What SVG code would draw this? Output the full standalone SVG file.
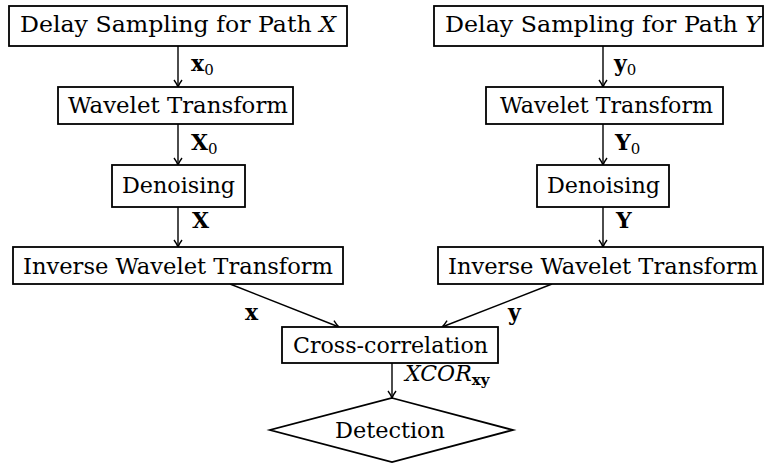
<svg xmlns="http://www.w3.org/2000/svg" width="764" height="463" viewBox="0 0 764 463">
<style>
  .box { fill: #fff; stroke: #000; stroke-width: 1.8; }
  .t { font-family: "DejaVu Serif", "Liberation Serif", serif; font-size: 22px; fill: #000; }
  .lbl { font-family: "DejaVu Serif", "Liberation Serif", serif; font-size: 22px; font-weight: bold; fill: #000; }
  .sub { font-family: "DejaVu Serif", "Liberation Serif", serif; font-size: 15px; font-weight: normal; font-style: normal; }
  .subb { font-family: "DejaVu Serif", "Liberation Serif", serif; font-size: 15px; font-weight: bold; font-style: normal; }
  .it { font-family: "DejaVu Serif", "Liberation Serif", serif; font-size: 22px; font-style: italic; fill: #000; }
  .con { stroke: #000; stroke-width: 1.4; fill: none; marker-end: url(#arr); }
</style>
<defs>
  <marker id="arr" markerUnits="userSpaceOnUse" markerWidth="12" markerHeight="12" refX="10" refY="6" orient="auto" viewBox="0 0 12 12">
    <path d="M 3 2 Q 7 5 10 6 Q 7 7 3 10" fill="none" stroke="#000" stroke-width="1.4"/>
  </marker>
</defs>
<rect width="764" height="463" fill="#fff"/>

<g id="connectors">
  <line class="con" x1="178" y1="46" x2="178" y2="87"/>
  <line class="con" x1="178" y1="124" x2="178" y2="165"/>
  <line class="con" x1="178" y1="207" x2="178" y2="247"/>
  <line class="con" x1="603" y1="46" x2="603" y2="87"/>
  <line class="con" x1="603" y1="124" x2="603" y2="165"/>
  <line class="con" x1="603" y1="207" x2="603" y2="247"/>
  <line class="con" x1="230" y1="284" x2="339" y2="327"/>
  <line class="con" x1="552" y1="284" x2="442" y2="327"/>
  <line class="con" x1="392" y1="363" x2="392" y2="398"/>
  <text class="lbl" x="191" y="71">x<tspan class="sub" dy="4">0</tspan></text>
  <text class="lbl" x="191" y="150">X<tspan class="sub" dy="4">0</tspan></text>
  <text class="lbl" x="192" y="228">X</text>
  <text class="lbl" x="614" y="71">y<tspan class="sub" dy="4">0</tspan></text>
  <text class="lbl" x="615" y="150">Y<tspan class="sub" dy="4">0</tspan></text>
  <text class="lbl" x="616" y="228">Y</text>
  <text class="lbl" x="245" y="320">x</text>
  <text class="lbl" x="508" y="320">y</text>
  <text class="it" x="405" y="381">XCOR<tspan class="subb" dy="4">xy</tspan></text>
</g>

<g id="delayX">
  <rect class="box" x="9" y="6" width="338" height="40"/>
  <text class="t" x="20" y="32" textLength="316" lengthAdjust="spacingAndGlyphs">Delay Sampling for Path <tspan font-style="italic">X</tspan></text>
</g>
<g id="waveletX">
  <rect class="box" x="58" y="87" width="235" height="37"/>
  <text class="t" x="68" y="113" textLength="220" lengthAdjust="spacingAndGlyphs">Wavelet Transform</text>
</g>
<g id="denoiseX">
  <rect class="box" x="112" y="165" width="133" height="42"/>
  <text class="t" x="122" y="193" textLength="113" lengthAdjust="spacingAndGlyphs">Denoising</text>
</g>
<g id="inverseX">
  <rect class="box" x="13" y="247" width="330" height="37"/>
  <text class="t" x="23" y="274" textLength="310" lengthAdjust="spacingAndGlyphs">Inverse Wavelet Transform</text>
</g>

<g id="delayY">
  <rect class="box" x="434" y="6" width="329" height="40"/>
  <text class="t" x="445" y="32" textLength="316" lengthAdjust="spacingAndGlyphs">Delay Sampling for Path <tspan font-style="italic">Y</tspan></text>
</g>
<g id="waveletY">
  <rect class="box" x="486" y="87" width="237" height="37"/>
  <text class="t" x="500" y="113" textLength="213" lengthAdjust="spacingAndGlyphs">Wavelet Transform</text>
</g>
<g id="denoiseY">
  <rect class="box" x="537" y="165" width="132" height="42"/>
  <text class="t" x="547" y="193" textLength="113" lengthAdjust="spacingAndGlyphs">Denoising</text>
</g>
<g id="inverseY">
  <rect class="box" x="438" y="247" width="325" height="37"/>
  <text class="t" x="448" y="274" textLength="310" lengthAdjust="spacingAndGlyphs">Inverse Wavelet Transform</text>
</g>

<g id="cross">
  <rect class="box" x="282" y="327" width="216" height="36"/>
  <text class="t" x="293" y="353" textLength="195" lengthAdjust="spacingAndGlyphs">Cross-correlation</text>
</g>
<g id="detection">
  <polygon class="box" points="392,398 513,430 392,462 270,430"/>
  <text class="t" x="335" y="438" textLength="110" lengthAdjust="spacingAndGlyphs">Detection</text>
</g>
</svg>
